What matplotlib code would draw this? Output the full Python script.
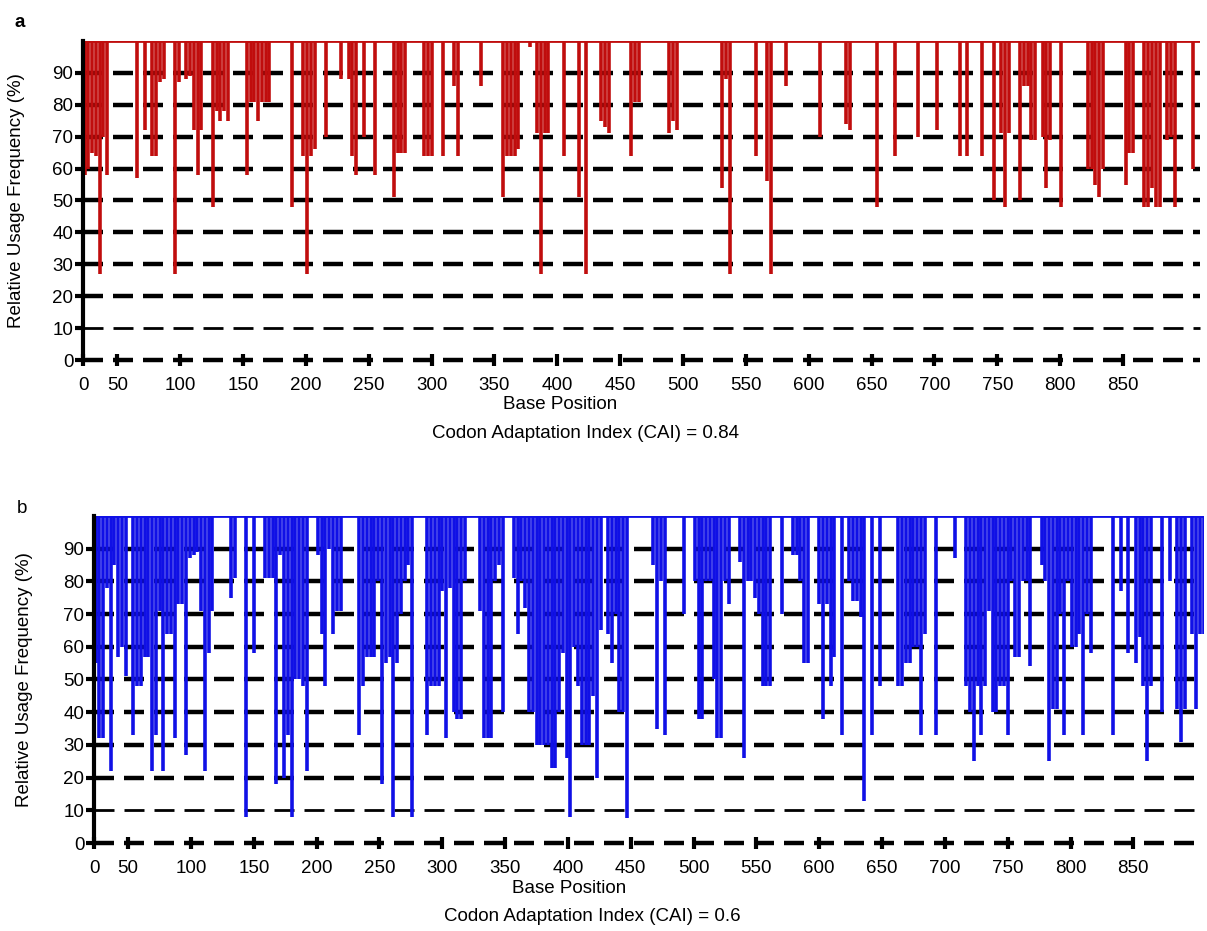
import numpy as np
import matplotlib
matplotlib.use("Agg")
import matplotlib.pyplot as plt

plt.rcParams['font.family'] = ['Liberation Sans', 'DejaVu Sans']

# 0 label sits on the y axis, the rest are real base positions
tick_vals = [50, 100, 150, 200, 250, 300, 350, 400, 450, 500,
             550, 600, 650, 700, 750, 800, 850]
y_ticks = [0, 10, 20, 30, 40, 50, 60, 70, 80, 90]

# panel a: base position of each codon below 100% and its relative usage
pos_a = [24, 27, 30, 33, 36, 39, 42, 66, 72, 78, 81, 84, 87, 96, 99, 105, 108,
         111, 114, 117, 126, 129, 132, 135, 138, 153, 156, 159, 162, 165, 168,
         171, 189, 198, 201, 204, 207, 216, 228, 234, 237, 240, 246, 255, 270,
         273, 276, 279, 294, 297, 300, 309, 318, 321, 339, 357, 360, 363, 366,
         369, 378, 384, 387, 390, 393, 405, 417, 423, 435, 438, 441, 459, 462,
         465, 489, 492, 495, 531, 534, 537, 558, 567, 570, 582, 609, 630, 633,
         654, 669, 687, 702, 720, 726, 738, 747, 753, 756, 759, 768, 771, 774,
         777, 780, 786, 789, 792, 801, 822, 825, 828, 831, 834, 852, 855, 858,
         867, 870, 873, 876, 879, 885, 888, 891, 906]
ruf_a = [58, 60, 65, 64, 27, 70, 58, 57, 72, 64, 64, 87, 88, 27, 87, 88, 89,
         72, 58, 72, 48, 78, 75, 78, 75, 58, 81, 81, 75, 81, 81,
         81, 48, 64, 27, 64, 66, 70, 88, 88, 64, 58, 70, 58, 51,
         65, 65, 65, 64, 64, 64, 64, 86, 64, 86, 51, 64, 64, 64,
         66, 98, 71, 27, 71, 71, 64, 51, 27, 75, 73, 71, 64, 81,
         81, 71, 75, 72, 54, 88, 27, 64, 56, 27, 86, 70, 74, 72,
         48, 64, 70, 72, 64, 64, 64, 50, 71, 48, 71, 50, 86, 86,
         69, 69, 70, 54, 69, 48, 60, 60, 55, 51, 60, 55, 65, 65,
         48, 48, 54, 48, 48, 69, 70, 48, 60]

# panel b: every codon from base 24 to 906, ten codons per row
pos_b = list(range(24, 907, 3))
ruf_b = [
    55, 32, 32, 78, 22, 85, 57, 60, 51, 100,     # 24
    33, 48, 48, 57, 57, 22, 33, 71, 22, 64,      # 54
    64, 32, 73, 73, 27, 87, 88, 89, 71, 22,      # 84
    58, 71, 100, 100, 100, 100, 75, 81, 100, 100,  # 114
    8, 100, 58, 100, 100, 81, 81, 81, 18, 88,    # 144
    20, 33, 8, 50, 50, 48, 22, 100, 100, 88,     # 174
    64, 48, 90, 64, 71, 71, 100, 100, 100, 100,  # 204
    33, 48, 57, 57, 57, 80, 18, 55, 57, 8,       # 234
    55, 70, 80, 85, 8, 100, 100, 100, 33, 48,    # 264
    48, 48, 77, 32, 78, 40, 38, 38, 80, 100,     # 294
    100, 100, 71, 32, 32, 32, 80, 85, 40, 100,   # 324
    100, 81, 64, 80, 72, 40, 40, 30, 30, 30,     # 354
    30, 23, 23, 40, 58, 26, 8, 60, 48, 30,       # 384
    30, 30, 45, 20, 65, 100, 64, 55, 70, 40,     # 414
    40, 7.5, 100, 100, 100, 100, 100, 100, 85, 35,  # 444
    80, 33, 100, 100, 100, 100, 70, 100, 100, 80,   # 474
    38, 38, 80, 80, 50, 32, 32, 80, 73, 100,     # 504
    100, 86, 26, 80, 80, 75, 70, 48, 48, 48,     # 534
    100, 100, 70, 100, 100, 88, 88, 80, 55, 55,  # 564
    100, 100, 73, 38, 73, 48, 57, 100, 33, 100,  # 594
    80, 74, 74, 69, 13, 100, 33, 100, 48, 100,   # 624
    100, 100, 100, 48, 48, 55, 55, 60, 60, 33,   # 654
    64, 100, 100, 33, 100, 100, 100, 100, 87, 100,  # 684
    100, 48, 40, 25, 48, 33, 48, 71, 40, 40,     # 714
    48, 48, 33, 80, 57, 57, 80, 80, 54, 100,     # 744
    100, 85, 80, 25, 41, 41, 70, 33, 80, 60,     # 774
    60, 64, 33, 70, 58, 100, 100, 100, 100, 100,  # 804
    33, 100, 77, 100, 58, 100, 55, 63, 48, 25,   # 834
    48, 100, 100, 40, 100, 80, 100, 41, 31, 41,  # 864
    100, 64, 41, 64, 64,                         # 894
]

x_left = 22.8


def draw_panel(ax, pos, ruf, color, x_right, cai, ylab_xy, xlab_xy, cai_xy):
    ax.set_xlim(x_left, x_right)
    ax.set_ylim(0, 100)
    # dashed reference lines every 10 %
    for y in y_ticks:
        if y == 10:
            ax.axhline(y, color='black', lw=2.0, ls=(0, (7.2, 3.6)),
                       zorder=1, clip_on=False)
        else:
            ax.axhline(y, color='black', lw=3.2, ls=(0, (4.5, 2.25)),
                       zorder=1, clip_on=False)
    ax.axhline(100, color=color, lw=2, zorder=3)
    ax.vlines(pos, ruf, 100, color=color, lw=2.6, zorder=2)

    for s in ['top', 'right', 'bottom']:
        ax.spines[s].set_visible(False)
    ax.spines['left'].set_linewidth(3)
    ax.spines['left'].set_bounds(1.5, 100)
    ax.spines['left'].set_zorder(4)

    ax.set_yticks(y_ticks)
    ax.tick_params(axis='y', length=6, width=3, labelsize=13.5, pad=1)
    ax.set_xticks([x_left] + tick_vals)
    ax.set_xticklabels(['0'] + [str(v) for v in tick_vals])
    ax.tick_params(axis='x', direction='inout', length=9, width=3,
                   labelsize=13.5, pad=8)
    ax.set_ylabel('Relative Usage Frequency (%)', fontsize=13.5)
    ax.yaxis.set_label_coords(*ylab_xy)
    ax.set_xlabel('Base Position', fontsize=13.5, va='center')
    ax.xaxis.set_label_coords(*xlab_xy)
    ax.text(cai_xy[0], cai_xy[1], f'Codon Adaptation Index (CAI) = {cai}',
            transform=ax.transAxes, ha='center', va='center', fontsize=13.5)
    return ax


fig = plt.figure(figsize=(12.07, 9.31), dpi=100)
ax_a = fig.add_axes([0.0688, 0.6133, 0.9254, 0.3427])
ax_b = fig.add_axes([0.0779, 0.0945, 0.9200, 0.3513])

draw_panel(ax_a, pos_a, ruf_a, '#c00d0d', 911.2, 0.84,
           (-0.052, 0.5), (0.427, -0.14), (0.450, -0.229))
draw_panel(ax_b, pos_b, ruf_b, '#1010e6', 906.6, 0.6,
           (-0.055, 0.5), (0.428, -0.138), (0.449, -0.226))

fig.text(0.012, 0.985, 'a', fontsize=13.5, fontweight='bold', va='top')
fig.text(0.014, 0.463, 'b', fontsize=13.5, va='top')

fig.savefig('out.png', dpi=100)
